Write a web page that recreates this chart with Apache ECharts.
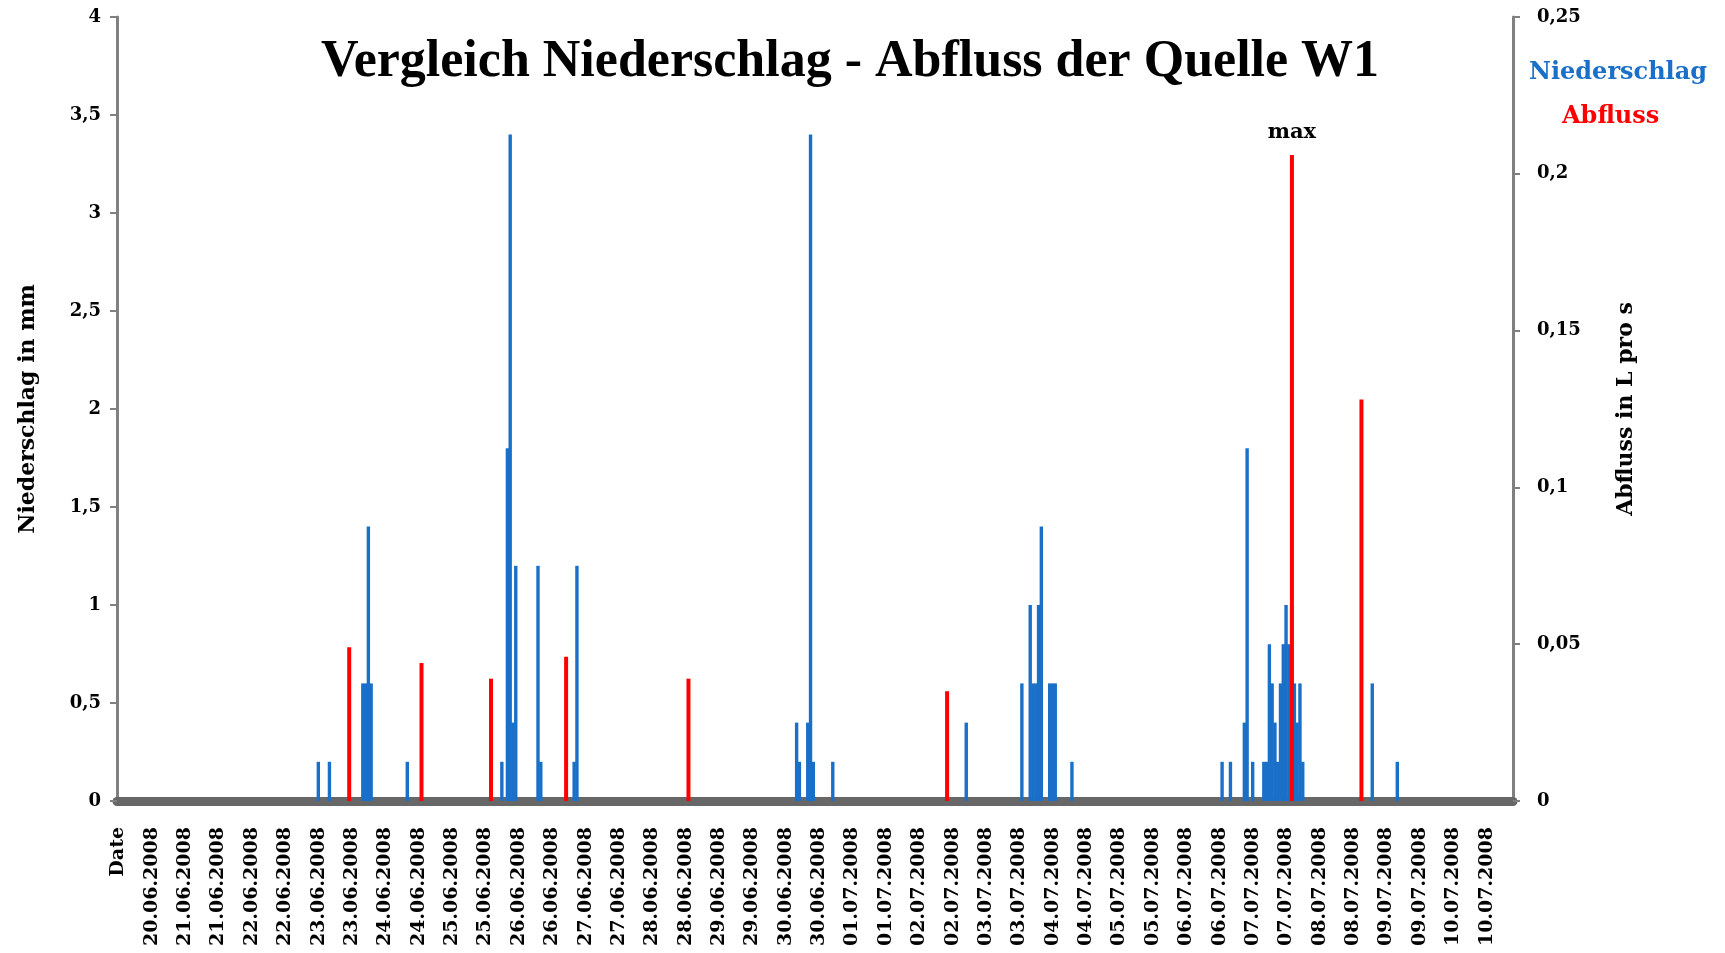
<!DOCTYPE html>
<html>
<head>
<meta charset="utf-8">
<script src="https://cdn.jsdelivr.net/npm/echarts@6/dist/echarts.min.js"></script>
<style>
  html, body { margin: 0; padding: 0; background: #ffffff; }
  #chart { width: 1725px; height: 953px; }
</style>
</head>
<body>
<div id="chart"></div>
<script>
// ---- Data ----
const days = ['20.06.2008','21.06.2008','22.06.2008','23.06.2008','24.06.2008','25.06.2008','26.06.2008',
  '27.06.2008','28.06.2008','29.06.2008','30.06.2008','01.07.2008','02.07.2008','03.07.2008','04.07.2008',
  '05.07.2008','06.07.2008','07.07.2008','08.07.2008','09.07.2008','10.07.2008'];
const lastTimestamp = '10.07.2008 21:00';
const headerLabel = 'Date';

// Niederschlag (mm), hourly values > 0
const niederschlagZeit = [
  '23.06.2008 00:00','23.06.2008 04:00','23.06.2008 16:00','23.06.2008 17:00','23.06.2008 18:00','23.06.2008 19:00',
  '24.06.2008 08:00',
  '25.06.2008 18:00','25.06.2008 20:00','25.06.2008 21:00','25.06.2008 22:00','25.06.2008 23:00',
  '26.06.2008 07:00','26.06.2008 08:00','26.06.2008 20:00','26.06.2008 21:00',
  '30.06.2008 04:00','30.06.2008 05:00','30.06.2008 08:00','30.06.2008 09:00','30.06.2008 10:00','30.06.2008 17:00',
  '02.07.2008 17:00',
  '03.07.2008 13:00','03.07.2008 16:00','03.07.2008 17:00','03.07.2008 18:00','03.07.2008 19:00','03.07.2008 20:00',
  '03.07.2008 23:00','04.07.2008 00:00','04.07.2008 01:00','04.07.2008 07:00',
  '06.07.2008 13:00','06.07.2008 16:00','06.07.2008 21:00','06.07.2008 22:00',
  '07.07.2008 00:00','07.07.2008 04:00','07.07.2008 05:00','07.07.2008 06:00','07.07.2008 07:00','07.07.2008 08:00',
  '07.07.2008 09:00','07.07.2008 10:00','07.07.2008 11:00','07.07.2008 12:00','07.07.2008 13:00','07.07.2008 14:00',
  '07.07.2008 15:00','07.07.2008 16:00','07.07.2008 17:00','07.07.2008 18:00',
  '08.07.2008 19:00','09.07.2008 04:00'
];
const niederschlagMm = [
  0.2, 0.2, 0.6, 0.6, 1.4, 0.6,
  0.2,
  0.2, 1.8, 3.4, 0.4, 1.2,
  1.2, 0.2, 0.2, 1.2,
  0.4, 0.2, 0.4, 3.4, 0.2, 0.2,
  0.4,
  0.6, 1.0, 0.6, 0.6, 1.0, 1.4,
  0.6, 0.6, 0.6, 0.2,
  0.2, 0.2, 0.4, 1.8,
  0.2, 0.2, 0.2, 0.8, 0.6, 0.4,
  0.2, 0.6, 0.8, 1.0, 0.8, 1.0,
  0.6, 0.4, 0.6, 0.2,
  0.6, 0.2
];

// Abfluss (L/s)
const abflussZeit = ['23.06.2008 11:00','24.06.2008 13:00','25.06.2008 14:00','26.06.2008 17:00',
  '28.06.2008 13:00','02.07.2008 10:00','07.07.2008 14:00','08.07.2008 15:00'];
const abflussLs = [0.049, 0.044, 0.039, 0.046, 0.039, 0.035, 0.206, 0.128];
const abflussMaxZeit = '07.07.2008 14:00';

const leftTicks = { min: 0, max: 4, interval: 0.5 };
const rightTicks = { min: 0, max: 0.25, interval: 0.05 };

// ---- Build categories (hourly) ----
const categories = [];
outer:
for (const d of days) {
  for (let h = 0; h < 24; h++) {
    const t = d + ' ' + String(h).padStart(2, '0') + ':00';
    categories.push(t);
    if (t === lastTimestamp) break outer;
  }
}
categories[0] = headerLabel;

const blueData = niederschlagZeit.map((t, i) => [t, niederschlagMm[i]]);
const redData = abflussZeit.map((t, i) => {
  const item = { value: [t, abflussLs[i]] };
  if (t === abflussMaxZeit) {
    item.label = {
      show: true, position: 'top', distance: 12, formatter: 'max',
      color: '#000', fontFamily: 'DejaVu Serif', fontWeight: 'bold', fontSize: 21
    };
  }
  return item;
});

const BLUE = '#1a70c8';
const RED = '#ff0000';
const serif = 'DejaVu Serif';
const comma = v => String(v).replace('.', ',');

const chart = echarts.init(document.getElementById('chart'));
chart.setOption({
  animation: false,
  backgroundColor: '#ffffff',
  title: {
    text: 'Vergleich Niederschlag - Abfluss der Quelle W1',
    left: 845, top: 32, textAlign: 'center',
    textStyle: { fontFamily: 'Liberation Serif', fontWeight: 'bold', fontSize: 52, color: '#000' }
  },
  legend: [
    { data: [{ name: 'Niederschlag', textStyle: { color: BLUE } }], left: 1524, top: 61, padding: 0,
      itemWidth: 0, itemHeight: 0, icon: 'none', selectedMode: false,
      textStyle: { fontFamily: serif, fontWeight: 'bold', fontSize: 24 } },
    { data: [{ name: 'Abfluss', textStyle: { color: RED } }], left: 1557, top: 105, padding: 0,
      itemWidth: 0, itemHeight: 0, icon: 'none', selectedMode: false,
      textStyle: { fontFamily: serif, fontWeight: 'bold', fontSize: 24 } }
  ],
  grid: { left: 117, right: 212, top: 17, bottom: 152, containLabel: false },
  xAxis: {
    type: 'category',
    data: categories,
    boundaryGap: true,
    offset: 6,
    axisLine: { show: true, lineStyle: { color: '#676767', width: 9 } },
    axisTick: { show: false },
    axisLabel: {
      interval: 11, rotate: 90, margin: 20,
      fontFamily: serif, fontWeight: 'bold', fontSize: 19, color: '#000',
      formatter: v => v === headerLabel ? v : v.slice(0, 10)
    },
    splitLine: { show: false }
  },
  yAxis: [
    {
      type: 'value', min: leftTicks.min, max: leftTicks.max, interval: leftTicks.interval,
      name: 'Niederschlag in mm', nameLocation: 'middle', nameRotate: 90, nameGap: 78,
      nameTextStyle: { fontFamily: serif, fontWeight: 'bold', fontSize: 22, color: '#000' },
      axisLine: { show: true, lineStyle: { color: '#808080', width: 3 } },
      axisTick: { show: true, length: 7, lineStyle: { color: '#808080', width: 2 } },
      axisLabel: { formatter: comma, margin: 16, fontFamily: serif, fontWeight: 'bold', fontSize: 18, color: '#000' },
      splitLine: { show: false }
    },
    {
      type: 'value', min: rightTicks.min, max: rightTicks.max, interval: rightTicks.interval,
      name: 'Abfluss in L pro s', nameLocation: 'middle', nameRotate: 90, nameGap: 102,
      nameTextStyle: { fontFamily: serif, fontWeight: 'bold', fontSize: 22, color: '#000' },
      axisLine: { show: true, lineStyle: { color: '#808080', width: 3 } },
      axisTick: { show: true, length: 7, lineStyle: { color: '#808080', width: 2 } },
      axisLabel: { formatter: comma, margin: 24, fontFamily: serif, fontWeight: 'bold', fontSize: 18, color: '#000' },
      splitLine: { show: false }
    }
  ],
  series: [
    { name: 'Niederschlag', type: 'bar', yAxisIndex: 0, data: blueData,
      barWidth: 3.4, barGap: '-100%', itemStyle: { color: BLUE } },
    { name: 'Abfluss', type: 'bar', yAxisIndex: 1, data: redData,
      barWidth: 4, barGap: '-100%', itemStyle: { color: RED } }
  ]
});
</script>
</body>
</html>
